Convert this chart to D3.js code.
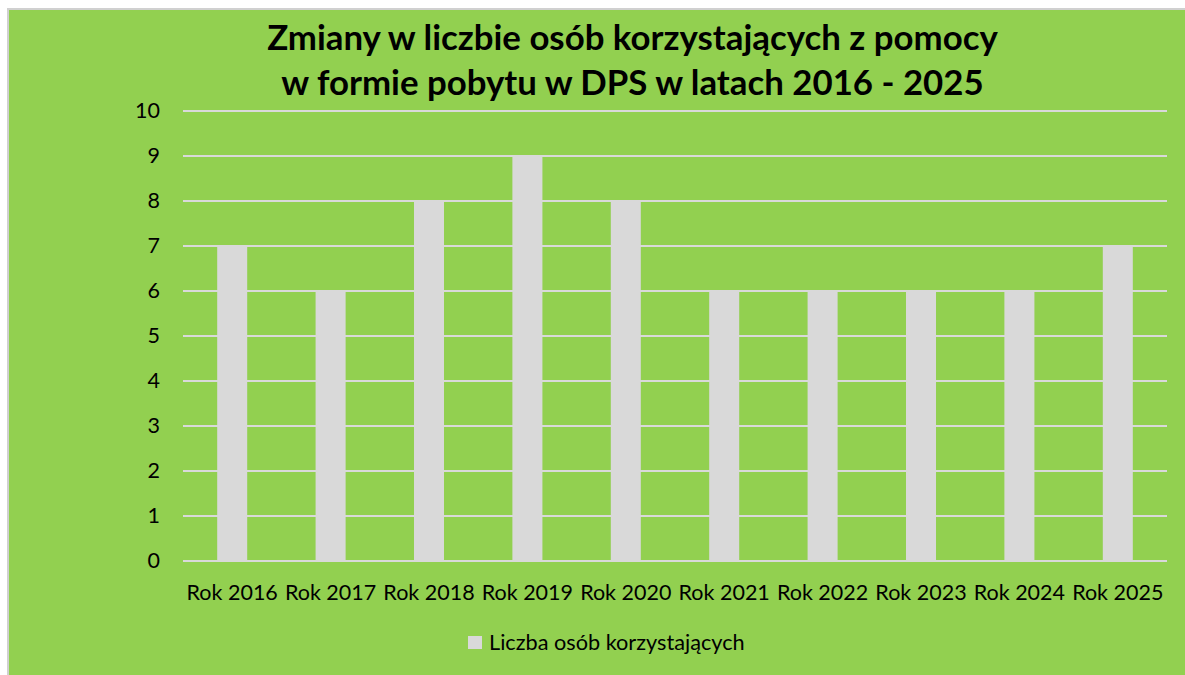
<!DOCTYPE html>
<html>
<head>
<meta charset="utf-8">
<script src="https://cdn.jsdelivr.net/npm/d3@7"></script>
<style>
  html, body { margin: 0; padding: 0; background: #ffffff; }
  svg { display: block; }
  text { font-family: Lato, "Open Sans", sans-serif; fill: #000; }
</style>
</head>
<body>
<svg id="chart" width="1185" height="675"></svg>
<script>
const categories = ["Rok 2016", "Rok 2017", "Rok 2018", "Rok 2019", "Rok 2020", "Rok 2021", "Rok 2022", "Rok 2023", "Rok 2024", "Rok 2025"];
const values = [7, 6, 8, 9, 8, 6, 6, 6, 6, 7];
const yTicks = [0, 1, 2, 3, 4, 5, 6, 7, 8, 9, 10];
const seriesName = "Liczba osób korzystających";
const titleLines = ["Zmiany w liczbie osób korzystających z pomocy", "w formie pobytu w DPS w latach 2016 - 2025"];

const svg = d3.select("#chart");
const W = 1185, H = 675;

// background panel (extends past right/bottom edge like the cropped reference)
svg.append("rect").attr("x", 8).attr("y", 9).attr("width", W + 10).attr("height", H + 10)
  .attr("fill", "#92d050").attr("stroke", "#d0d0d0").attr("stroke-width", 2);

const margin = { left: 183, right: 1167, top: 111, bottom: 561 };

const x = d3.scaleBand().domain(categories).range([margin.left, margin.right]).paddingInner(0.695).paddingOuter(0.3475);
const y = d3.scaleLinear().domain([0, 10]).range([margin.bottom, margin.top]);

// gridlines
svg.append("g").selectAll("line").data(yTicks).join("line")
  .attr("x1", margin.left).attr("x2", margin.right)
  .attr("y1", d => y(d)).attr("y2", d => y(d))
  .attr("stroke", "#d9d9d9").attr("stroke-width", 2);

// bars
svg.append("g").selectAll("rect").data(values).join("rect")
  .attr("x", (d, i) => x(categories[i]))
  .attr("width", x.bandwidth())
  .attr("y", d => y(d))
  .attr("height", d => y(0) - y(d))
  .attr("fill", "#d9d9d9");

// y axis
const yAxis = d3.axisLeft(y).tickValues(yTicks).tickSize(0).tickPadding(23).tickFormat(d3.format("d"));
const gy = svg.append("g").attr("transform", `translate(${margin.left},0)`).call(yAxis);
gy.select(".domain").remove();
gy.selectAll("text").style("font-size", "21.5px").style("font-family", "Lato, sans-serif").attr("fill", "#000");

// x axis
const xAxis = d3.axisBottom(x).tickSize(0).tickPadding(24);
const gx = svg.append("g").attr("transform", `translate(0,${margin.bottom})`).call(xAxis);
gx.select(".domain").remove();
gx.selectAll("text").style("font-size", "21.5px").style("font-family", "Lato, sans-serif").attr("fill", "#000");

// title
svg.append("g").selectAll("text").data(titleLines).join("text")
  .attr("x", 632.5).attr("y", (d, i) => 50 + i * 45)
  .attr("text-anchor", "middle")
  .style("font-size", "34.8px").style("font-weight", "bold")
  .text(d => d);

// legend
const lg = svg.append("g");
lg.append("rect").attr("x", 468).attr("y", 636).attr("width", 14).attr("height", 13).attr("fill", "#d9d9d9");
lg.append("text").attr("x", 489).attr("y", 650).style("font-size", "21.7px").text(seriesName);
</script>
</body>
</html>
